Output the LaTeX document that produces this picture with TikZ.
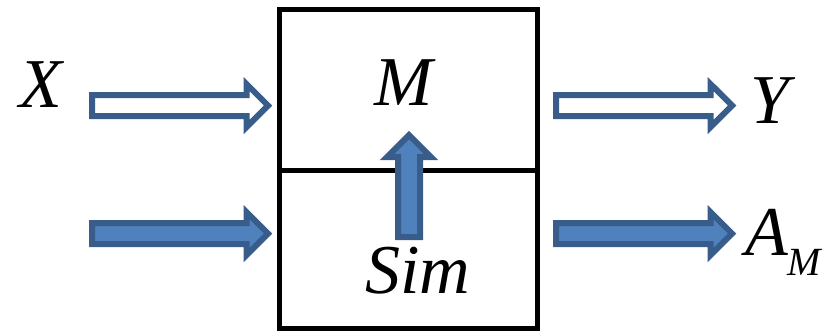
\documentclass[tikz,border=0pt]{standalone}
\usepackage{fontspec}
\setmainfont{Liberation Serif}
\usetikzlibrary{shapes.arrows, positioning}
\definecolor{fillblue}{RGB}{79, 129, 189}
\definecolor{edgeblue}{RGB}{56, 93, 138}

\tikzset{
  blockarrow/.style={single arrow, draw=edgeblue, line width=6pt, inner sep=0pt,
    inner ysep=7.5pt, minimum width=0pt, single arrow head extend=11pt,
    minimum height=176pt, anchor=tail},
  hollowarrow/.style={blockarrow, fill=white},
  fullarrow/.style={blockarrow, fill=fillblue},
  lbl/.style={inner sep=0pt, anchor=base, font=\fontsize{70}{72}\selectfont\itshape}
}

\begin{document}
\begin{tikzpicture}[x=1pt, y=-1pt]
  \useasboundingbox (0,0) rectangle (826,330);

  % model box, split in two
  \draw[line width=5pt] (279.5,9.5) rectangle (537,328);
  \draw[line width=5pt] (279.5,170) -- (537,170);

  % inputs and outputs
  \node[hollowarrow] (xin) at (89,105.5) {};
  \node[fullarrow] (simin) at (89,233.5) {};
  \node[hollowarrow] (yout) at (553,105.5) {};
  \node[fullarrow] (amout) at (553,233.5) {};
  \node[fullarrow, rotate=90, minimum height=102pt, inner ysep=8pt] (up) at (409,240) {};

  \node[lbl] (xlbl) at (41,107) {X};
  \node[lbl] (mlbl) at (404,105) {M};
  \node[lbl] (simlbl) at (418,293) {Sim};
  \node[lbl] (ylbl) at (770,123) {Y};
  \node[lbl, anchor=base west] (amlbl) at (745,255) {A\raisebox{-20pt}{\fontsize{40}{42}\selectfont M}};
\end{tikzpicture}
\end{document}
